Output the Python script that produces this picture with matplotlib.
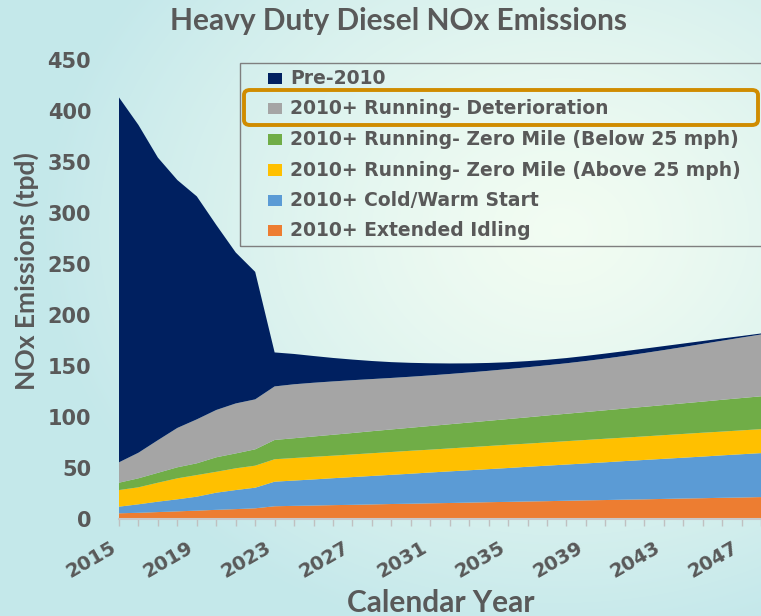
import numpy as np
import matplotlib
matplotlib.use("Agg")
import matplotlib.pyplot as plt
from matplotlib.patches import Rectangle, FancyBboxPatch

# ---------------- data (tpd) ----------------
years = list(range(2015, 2049))
extended_idling = [5.3, 5.8, 6.5, 7.2, 7.9, 8.7, 9.4, 10.2, 12.2, 12.6, 12.9, 13.3, 13.6, 14.0, 14.4, 14.7, 15.1,
                   15.4, 15.8, 16.2, 16.5, 16.9, 17.2, 17.6, 18.0, 18.3, 18.7, 19.0, 19.4, 19.8, 20.1, 20.5, 20.8, 21.2]
cold_warm_start = [6.5, 8.3, 10.2, 11.8, 13.7, 16.8, 18.7, 20.2, 24.1, 24.8, 25.6, 26.4, 27.2, 27.9, 28.6, 29.4, 30.2,
                   31.0, 31.7, 32.4, 33.2, 34.0, 34.8, 35.5, 36.2, 37.0, 37.8, 38.6, 39.3, 40.0, 40.8, 41.6, 42.4, 43.1]
zero_mile_above = [16.3, 16.7, 18.6, 20.6, 21.2, 20.5, 21.3, 21.6, 22.0, 22.1, 22.2, 22.1, 22.2, 22.3, 22.4, 22.5, 22.4,
                   22.5, 22.6, 22.7, 22.8, 22.7, 22.8, 22.9, 23.0, 23.1, 23.0, 23.1, 23.2, 23.3, 23.4, 23.3, 23.4, 23.5]
zero_mile_below = [7.2, 8.8, 9.7, 10.8, 11.5, 14.2, 14.6, 16.0, 18.9, 19.4, 19.9, 20.5, 21.0, 21.6, 22.1, 22.6, 23.2,
                   23.7, 24.2, 24.7, 25.2, 25.8, 26.4, 26.9, 27.4, 27.9, 28.5, 29.0, 29.5, 30.0, 30.5, 31.2, 31.7, 32.2]
deterioration = [20.0, 25.1, 32.0, 38.6, 43.1, 46.4, 49.0, 49.0, 52.5, 52.9, 52.7, 52.3, 51.8, 51.1, 50.5, 50.0, 49.6,
                 49.3, 49.1, 49.0, 49.0, 49.1, 49.2, 49.5, 50.0, 50.7, 51.6, 52.7, 53.9, 55.2, 56.6, 57.9, 59.3, 60.6]
pre_2010 = [357.7, 321.3, 277.0, 243.0, 218.6, 181.4, 148.0, 125.0, 33.3, 29.7, 26.2, 23.0, 20.2, 17.7, 15.5, 13.6, 11.9,
            10.3, 8.9, 7.7, 6.7, 6.0, 5.4, 5.1, 5.0, 4.9, 4.7, 4.3, 3.9, 3.4, 2.8, 2.2, 1.5, 1.0]

series_names = ["2010+ Extended Idling", "2010+ Cold/Warm Start", "2010+ Running- Zero Mile (Above 25 mph)",
                "2010+ Running- Zero Mile (Below 25 mph)", "2010+ Running- Deterioration", "Pre-2010"]
series_colors = ["#ed7d31", "#5b9bd5", "#ffc000", "#70ad47", "#a5a5a5", "#002060"]
label_years = [2015, 2019, 2023, 2027, 2031, 2035, 2039, 2043, 2047]
y_ticks = [0, 50, 100, 150, 200, 250, 300, 350, 400, 450]

W, H = 761, 616
fig = plt.figure(figsize=(W / 100, H / 100), dpi=100)

def fx(px):
    return px / W

def fy(py):
    return 1 - py / H

# background gradient
bg = fig.add_axes([0, 0, 1, 1], zorder=-5)
yy, xx = np.mgrid[0:H, 0:W]
d = np.sqrt(((xx - 560) / 520.0) ** 2 + ((yy - 230) / 420.0) ** 2)
t = np.clip(d, 0, 1)[..., None] ** 1.3
c_center = np.array([0.95, 0.99, 0.95])
c_edge = np.array([0.77, 0.91, 0.92])
img = c_center * (1 - t) + c_edge * t
bg.imshow(img, aspect="auto", extent=[0, 1, 0, 1], origin="upper")
bg.axis("off")

# main axes
left, right, bottom_px, top_px = 119, 761, 518.7, 59.7
ax = fig.add_axes([fx(left), fy(bottom_px), fx(right - left), (bottom_px - top_px) / H])
ax.set_facecolor("none")
stack = ax.stackplot(years, extended_idling, cold_warm_start, zero_mile_above, zero_mile_below,
                     deterioration, pre_2010, colors=series_colors, linewidth=0)
ax.set_xlim(2015, 2047.75)
ax.set_ylim(0, 450)
ax.set_yticks(y_ticks)
ax.set_yticklabels([str(v) for v in y_ticks])
ax.set_xticks(label_years)
ax.set_xticklabels([str(v) for v in label_years], rotation=30, ha="right")
ax.set_xticks(years, minor=True)
for s in ["top", "right", "left"]:
    ax.spines[s].set_visible(False)
ax.spines["bottom"].set_color("#c8c8c8")
ax.spines["bottom"].set_linewidth(1.5)
ax.tick_params(axis="x", which="both", direction="out", length=5, width=1, color="#c0c0c0")
ax.tick_params(axis="x", which="major", pad=9, labelsize=14, labelcolor="#595959")
ax.tick_params(axis="y", length=0, pad=20, labelsize=15, labelcolor="#595959")
for lab in ax.get_xticklabels() + ax.get_yticklabels():
    lab.set_fontweight("bold")
    lab.set_family("DejaVu Sans")

# titles
fig.text(fx(399), fy(21), "Heavy Duty Diesel NOx Emissions", ha="center", va="center",
         fontsize=21.5, fontweight="bold", color="#595959", family=["Lato", "DejaVu Sans"])
fig.text(fx(26), fy(271), "NOx Emissions (tpd)", ha="center", va="center", rotation=90,
         fontsize=19, fontweight="bold", color="#595959", family=["Lato", "DejaVu Sans"])
fig.text(fx(441), fy(603), "Calendar Year", ha="center", va="center",
         fontsize=21.5, fontweight="bold", color="#595959", family=["Lato", "DejaVu Sans"])

# legend (manual)
fig.patches.append(Rectangle((fx(240), fy(246)), fx(540), (246 - 63) / H, transform=fig.transFigure,
                             fill=False, edgecolor="#7f7f7f", linewidth=1.0, zorder=5))
row_y = [78.3, 108.3, 139.3, 170.0, 200.7, 230.7]
for i, name in enumerate(reversed(series_names)):
    col = list(reversed(series_colors))[i]
    yc = row_y[i]
    fig.patches.append(Rectangle((fx(268), fy(yc + 5.5)), fx(14), 11 / H, transform=fig.transFigure,
                                 facecolor=col, edgecolor="none", zorder=6))
    fig.text(fx(290), fy(yc), name, ha="left", va="center", fontsize=13.5, fontweight="bold",
             color="#595959", family="DejaVu Sans", zorder=6)
fig.patches.append(FancyBboxPatch((fx(244), fy(125)), fx(514), 35 / H, transform=fig.transFigure,
                                  boxstyle="round,pad=0,rounding_size=0.008", fill=False,
                                  edgecolor="#d08c00", linewidth=2.8, zorder=7))

fig.savefig("out.png", dpi=100)
